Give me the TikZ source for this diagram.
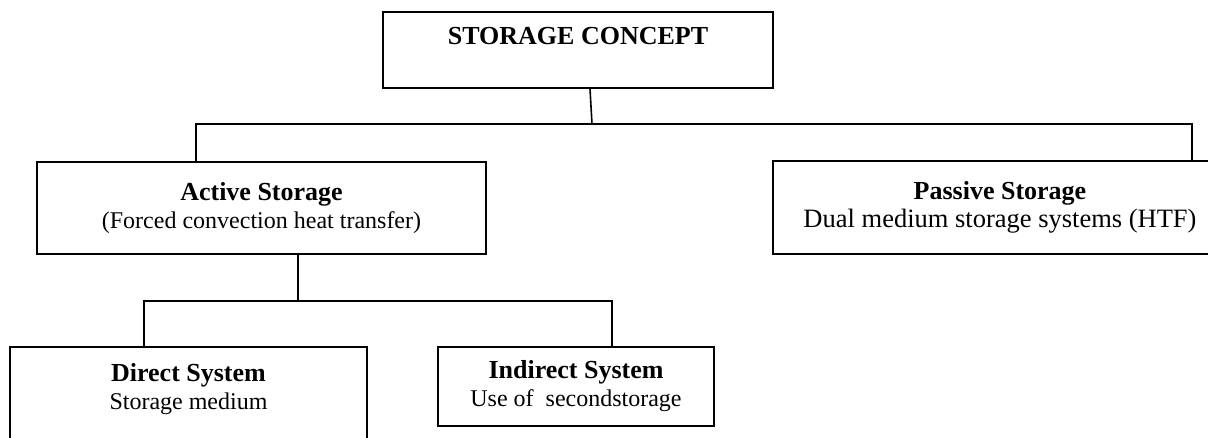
\documentclass[tikz,border=0pt]{standalone}
\usepackage{fontspec}
\setmainfont{Liberation Serif}
\tikzset{
    box/.style={draw, line width=1.6pt, align=center, inner sep=0pt,
                font=\fontsize{24}{28}\selectfont},
    link/.style={line width=1.6pt},
  }
\newcommand{\boxtitle}[1]{{\bfseries\fontsize{26}{28}\selectfont #1}}

\begin{document}
\begin{tikzpicture}[x=1pt,y=-1pt]
				  \useasboundingbox (0,0) rectangle (1208,437);
				  %boxes
				  \node[box, minimum width=390, minimum height=76] (concept) at (578,50) {\boxtitle{STORAGE CONCEPT}\\ \mbox{}};
				  \node[box, minimum width=449, minimum height=92] (active) at (261.5,208) {\boxtitle{Active Storage}\\(Forced convection heat transfer)};
				  \node[box, minimum width=454, minimum height=93, font=\fontsize{26.5}{28}\selectfont] (passive) at (1000,207.5) {\boxtitle{Passive Storage}\\Dual medium storage systems (HTF)};
				  \node[box, minimum width=357, minimum height=106] (direct) at (188.5,400) {\boxtitle{Direct System}\\Storage medium\\ \mbox{}};
				  \node[box, minimum width=276, minimum height=79] (indirect) at (576,386.5) {\boxtitle{Indirect System}\\Use of\ \ secondstorage};

				  %connectors
				  \coordinate (split) at (592,124);
				  \coordinate (fork) at (298,301);
				  \draw[link] ([xshift=12]concept.south) -- (split);
				  \draw[link] ([xshift=-65.5]active.north) |- (split) -| ([xshift=192]passive.north);
				  \draw[link] ([xshift=36.5]active.south) -- (fork);
				  \draw[link] ([xshift=-44.5]direct.north) |- (fork) -| ([xshift=36]indirect.north);
				  \end{tikzpicture}
\end{document}
